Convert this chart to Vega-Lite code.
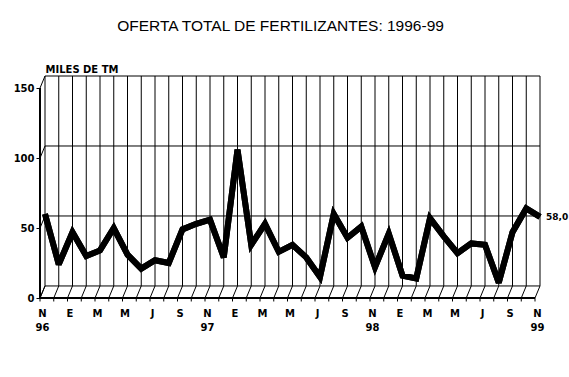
{
  "$schema": "https://vega.github.io/schema/vega-lite/v6.json",
  "autosize": "none",
  "width": 495,
  "height": 222,
  "padding": {"left": 45, "top": 76, "right": 29, "bottom": 79},
  "background": "white",
  "config": {
    "view": {"stroke": null},
    "font": "DejaVu Sans",
    "locale": {"number": {"decimal": ",", "thousands": ".", "grouping": [3], "currency": ["", ""]}}
  },
  "title": {
    "text": "OFERTA TOTAL DE FERTILIZANTES: 1996-99",
    "font": "Liberation Sans",
    "fontSize": 15.5,
    "fontWeight": "normal",
    "color": "black",
    "anchor": "middle",
    "frame": "group",
    "dx": -12,
    "offset": 30
  },
  "data": {
    "values": [
      {"fecha": "1996-11", "v": 60},
      {"fecha": "1996-12", "v": 24},
      {"fecha": "1997-01", "v": 47},
      {"fecha": "1997-02", "v": 30},
      {"fecha": "1997-03", "v": 34},
      {"fecha": "1997-04", "v": 50},
      {"fecha": "1997-05", "v": 31},
      {"fecha": "1997-06", "v": 21},
      {"fecha": "1997-07", "v": 27},
      {"fecha": "1997-08", "v": 25},
      {"fecha": "1997-09", "v": 49},
      {"fecha": "1997-10", "v": 53},
      {"fecha": "1997-11", "v": 56},
      {"fecha": "1997-12", "v": 29},
      {"fecha": "1998-01", "v": 106},
      {"fecha": "1998-02", "v": 38},
      {"fecha": "1998-03", "v": 53},
      {"fecha": "1998-04", "v": 33},
      {"fecha": "1998-05", "v": 38},
      {"fecha": "1998-06", "v": 29},
      {"fecha": "1998-07", "v": 15},
      {"fecha": "1998-08", "v": 60},
      {"fecha": "1998-09", "v": 43},
      {"fecha": "1998-10", "v": 51},
      {"fecha": "1998-11", "v": 22},
      {"fecha": "1998-12", "v": 46},
      {"fecha": "1999-01", "v": 16},
      {"fecha": "1999-02", "v": 14},
      {"fecha": "1999-03", "v": 57},
      {"fecha": "1999-04", "v": 44},
      {"fecha": "1999-05", "v": 32},
      {"fecha": "1999-06", "v": 39},
      {"fecha": "1999-07", "v": 38},
      {"fecha": "1999-08", "v": 11},
      {"fecha": "1999-09", "v": 47},
      {"fecha": "1999-10", "v": 64},
      {"fecha": "1999-11", "v": 58}
    ]
  },
  "layer": [
    {
      "mark": {"type": "line", "color": "black", "strokeWidth": 6, "strokeJoin": "miter", "strokeMiterLimit": 3},
      "encoding": {
        "x": {
          "field": "fecha", "type": "ordinal", "scale": {"type": "point", "padding": 0},
          "axis": {
            "title": null, "domain": false, "ticks": false, "grid": false,
            "labelAngle": 0,
            "values": ["1996-11","1997-01","1997-03","1997-05","1997-07","1997-09","1997-11","1998-01","1998-03","1998-05","1998-07","1998-09","1998-11","1999-01","1999-03","1999-05","1999-07","1999-09","1999-11"],
            "labelExpr": "slice(datum.value,5)=='11' ? ['N', slice(datum.value,2,4)] : (slice(datum.value,5)=='01' ? 'E' : (slice(datum.value,5)=='03' || slice(datum.value,5)=='05') ? 'M' : slice(datum.value,5)=='07' ? 'J' : 'S')",
            "labelFont": "DejaVu Sans", "labelFontWeight": "bold", "labelFontSize": 10,
            "labelColor": "black", "labelPadding": 10, "labelOffset": -3,
            "labelLineHeight": 14, "labelBaseline": "top", "labelOverlap": false
          }
        },
        "y": {
          "field": "v", "type": "quantitative",
          "scale": {"domain": [0, 158.6], "nice": false},
          "axis": {
            "values": [0, 50, 100, 150],
            "title": "MILES DE TM",
            "titleAngle": 0, "titleAlign": "left", "titleBaseline": "alphabetic",
            "titleX": 5, "titleY": -4,
            "titleFont": "DejaVu Sans", "titleFontWeight": "bold", "titleFontSize": 10, "titleColor": "black",
            "domain": false, "grid": false, "offset": 5,
            "tickSize": 4, "tickColor": "black",
            "labelFont": "DejaVu Sans", "labelFontWeight": "bold", "labelFontSize": 10,
            "labelColor": "black", "labelPadding": 2
          }
        }
      }
    },
    {
      "mark": {"type": "rule", "color": "black", "strokeWidth": 1},
      "encoding": {
        "x": {"field": "fecha", "type": "ordinal"},
        "y": {"datum": 8.6, "type": "quantitative"},
        "y2": {"datum": 158.6}
      }
    },
    {
      "mark": {"type": "rule", "color": "black", "strokeWidth": 1, "xOffset": -5},
      "encoding": {
        "x": {"field": "fecha", "type": "ordinal"},
        "y": {"datum": 0, "type": "quantitative"},
        "x2": {"field": "fecha"},
        "y2": {"datum": 8.6}
      }
    },
    {
      "mark": {"type": "rule", "color": "black", "strokeWidth": 1, "xOffset": -5, "x2Offset": -5},
      "encoding": {
        "x": {"field": "fecha", "type": "ordinal"},
        "y": {"datum": 0, "type": "quantitative"},
        "y2": {"datum": -2.5}
      }
    },
    {
      "data": {"values": [{"g": 8.6}, {"g": 58.6}, {"g": 108.6}, {"g": 158.6}]},
      "mark": {"type": "rule", "color": "black", "strokeWidth": 1},
      "encoding": {
        "y": {"field": "g", "type": "quantitative"}
      }
    },
    {
      "data": {"values": [{"g": 0, "h": 8.6}, {"g": 50, "h": 58.6}, {"g": 100, "h": 108.6}, {"g": 150, "h": 158.6}]},
      "mark": {"type": "rule", "color": "black", "strokeWidth": 1, "xOffset": -5},
      "encoding": {
        "x": {"datum": "1996-11", "type": "ordinal"},
        "x2": {"datum": "1996-11"},
        "y": {"field": "g", "type": "quantitative"},
        "y2": {"field": "h"}
      }
    },
    {
      "mark": {"type": "rule", "color": "black", "strokeWidth": 1, "xOffset": -5},
      "encoding": {
        "x": {"datum": "1996-11", "type": "ordinal"},
        "y": {"datum": 0, "type": "quantitative"},
        "y2": {"datum": 150}
      }
    },
    {
      "mark": {"type": "rule", "color": "black", "strokeWidth": 1, "xOffset": -5, "x2Offset": -5},
      "encoding": {
        "x": {"datum": "1996-11", "type": "ordinal"},
        "x2": {"datum": "1999-11"},
        "y": {"datum": 0, "type": "quantitative"}
      }
    },
    {
      "mark": {"type": "line", "color": "black", "strokeWidth": 6, "strokeJoin": "miter", "strokeMiterLimit": 3},
      "encoding": {
        "x": {"field": "fecha", "type": "ordinal"},
        "y": {"field": "v", "type": "quantitative"}
      }
    },
    {
      "transform": [{"filter": "datum.fecha == '1999-11'"}],
      "mark": {"type": "text", "align": "left", "dx": 6, "dy": 0, "fontWeight": "bold", "fontSize": 9, "color": "black", "font": "DejaVu Sans"},
      "encoding": {
        "x": {"field": "fecha", "type": "ordinal"},
        "y": {"field": "v", "type": "quantitative"},
        "text": {"field": "v", "type": "quantitative", "format": ".1f"}
      }
    }
  ]
}
